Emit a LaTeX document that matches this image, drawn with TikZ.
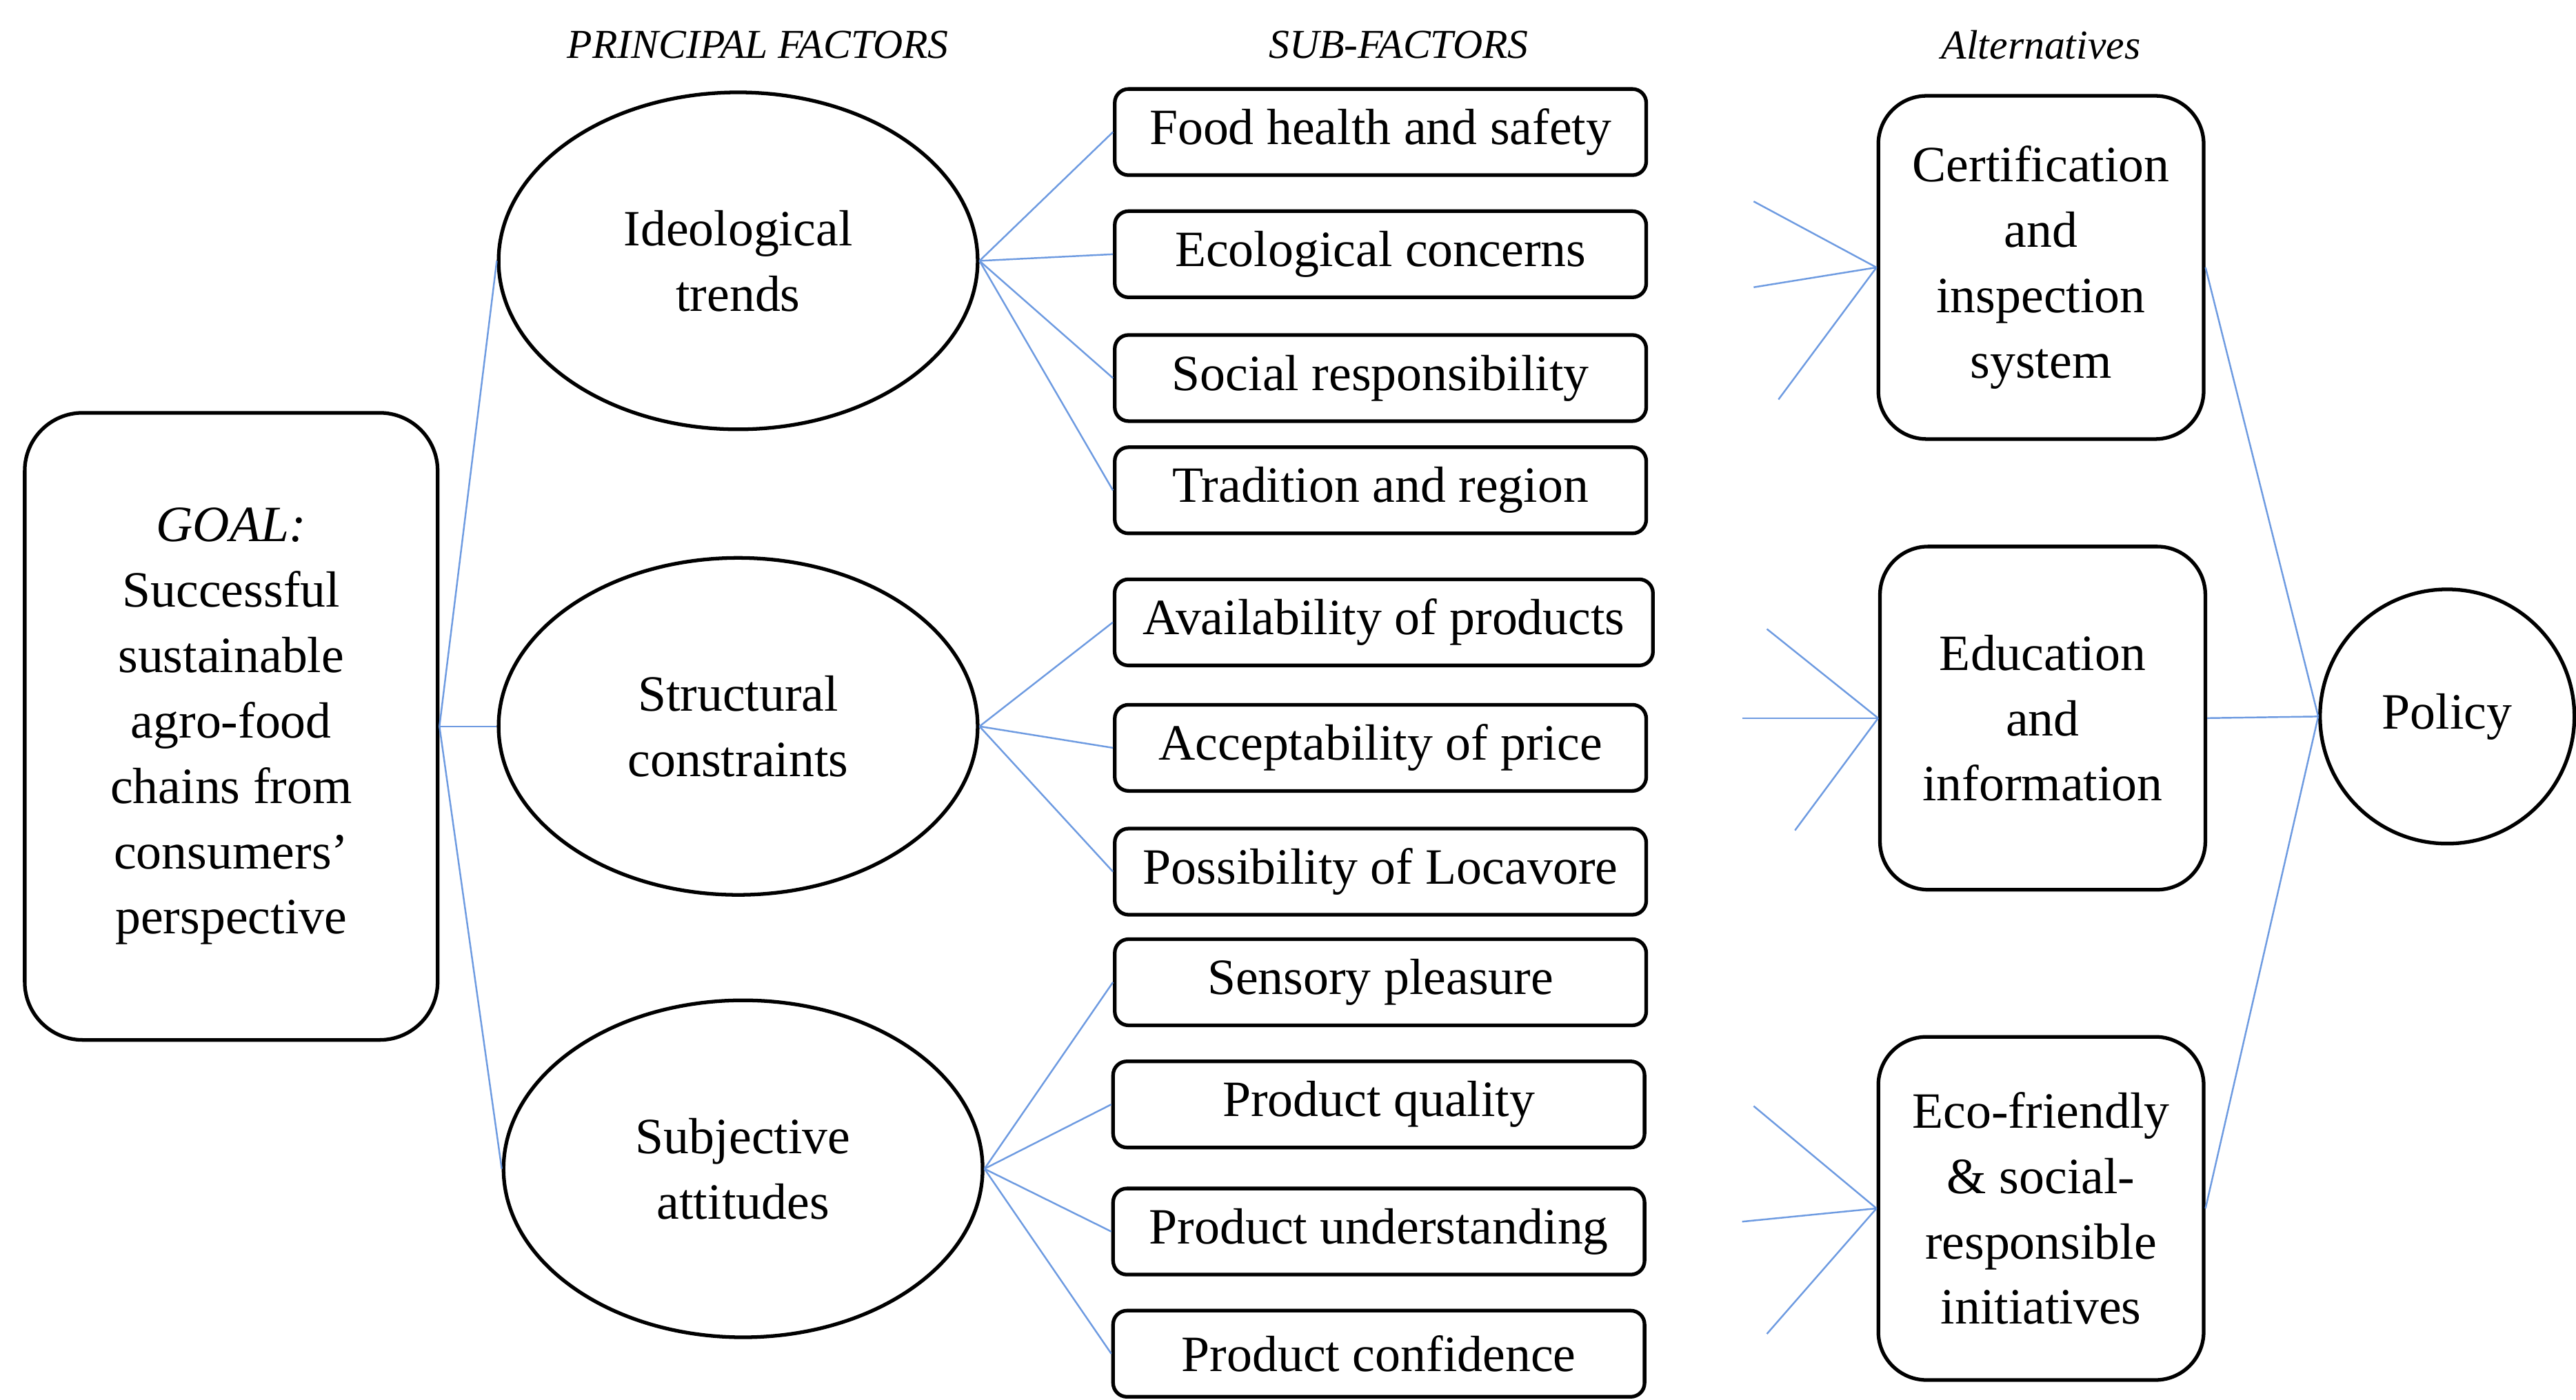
\documentclass[tikz,border=0pt]{standalone}
\usepackage{fontspec}
\setmainfont{Liberation Serif}
\usetikzlibrary{shapes.geometric}
\begin{document}
\begin{tikzpicture}[x=0.02395cm,y=-0.02395cm,
 every node/.style={font=\fontsize{21}{27}\selectfont, align=center, line width=1.5pt},
 goalbox/.style={draw, rounded corners=0.84cm, minimum width=5.99cm, minimum height=9.10cm, inner sep=0pt},
 fac/.style={draw, ellipse, minimum width=6.95cm, minimum height=4.89cm, inner sep=0pt},
 sub/.style={draw, rounded corners=0.2cm, minimum width=7.71cm, minimum height=1.25cm, inner sep=0pt},
 alt/.style={draw, rounded corners=0.7cm, minimum width=4.72cm, minimum height=4.98cm, inner sep=0pt},
 pol/.style={draw, circle, minimum size=3.69cm, inner sep=0pt},
 hdr/.style={font=\fontsize{17}{20}\selectfont\itshape},
 link/.style={draw=blue!45!cyan!60!black!70, line width=0.7pt, color={rgb,255:red,110;green,155;blue,225}}]
\useasboundingbox (0,0) rectangle (1560,848);
\node[hdr] (h1) at (459,27) {PRINCIPAL FACTORS};
\node[hdr] (h2) at (847,27) {SUB-FACTORS};
\node[hdr] (h3) at (1236,27) {Alternatives};
\node[goalbox] (goal) at (140,440) {\textit{GOAL:}\\Successful\\sustainable\\agro-food\\chains from\\consumers'\\perspective};
\node[fac] (f1) at (447,158) {Ideological\\trends};
\node[fac] (f2) at (447,440) {Structural\\constraints};
\node[fac] (f3) at (450,708) {Subjective\\attitudes};
\node[sub] (s1) at (836,80) {Food health and safety};
\node[sub] (s2) at (836,154) {Ecological concerns};
\node[sub] (s3) at (836,229) {Social responsibility};
\node[sub] (s4) at (836,297) {Tradition and region};
\node[sub, minimum width=7.81cm] (s5) at (838,377) {Availability of products};
\node[sub] (s6) at (836,453) {Acceptability of price};
\node[sub] (s7) at (836,528) {Possibility of Locavore};
\node[sub] (s8) at (836,595) {Sensory pleasure};
\node[sub] (s9) at (835,669) {Product quality};
\node[sub] (s10) at (835,746) {Product understanding};
\node[sub] (s11) at (835,820) {Product confidence};
\node[alt] (a1) at (1236,162) {Certification\\and\\inspection\\system};
\node[alt] (a2) at (1237,435) {Education\\and\\information};
\node[alt] (a3) at (1236,732) {Eco-friendly\\\& social-\\responsible\\initiatives};
\node[pol] (p) at (1482,434) {Policy};
\coordinate (c1) at (1062,122); \coordinate (c2) at (1062,174); \coordinate (c3) at (1077,242);
\coordinate (e1) at (1070,381); \coordinate (e2) at (1055,435); \coordinate (e3) at (1087,503);
\coordinate (g1) at (1062,670); \coordinate (g2) at (1055,740); \coordinate (g3) at (1070,808);
\foreach \f in {f1,f2,f3} \draw[link] (goal.east) -- (\f.west);
\foreach \s in {s1,s2,s3,s4} \draw[link] (f1.east) -- (\s.west);
\foreach \s in {s5,s6,s7} \draw[link] (f2.east) -- (\s.west);
\foreach \s in {s8,s9,s10,s11} \draw[link] (f3.east) -- (\s.west);
\foreach \c in {c1,c2,c3} \draw[link] (\c) -- (a1.west);
\foreach \c in {e1,e2,e3} \draw[link] (\c) -- (a2.west);
\foreach \c in {g1,g2,g3} \draw[link] (\c) -- (a3.west);
\foreach \a in {a1,a2,a3} \draw[link] (\a.east) -- (p.west);
\end{tikzpicture}
\end{document}
